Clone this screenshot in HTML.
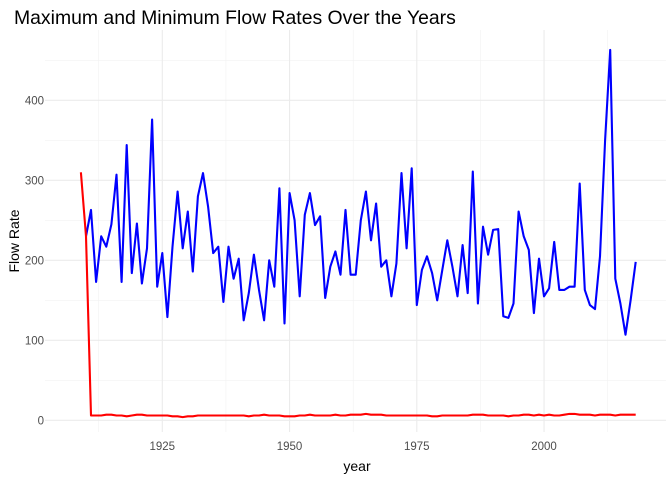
<!DOCTYPE html>
<html><head><meta charset="utf-8"><style>
body{margin:0;background:#fff;font-family:"Liberation Sans",sans-serif}
svg{display:block}
</style></head><body>
<svg id="chart" width="672" height="480">
<text x="14" y="24" font-size="19.4" fill="#000">Maximum and Minimum Flow Rates Over the Years</text>
<g id="grid"></g>
<g id="axes"></g>
<g id="series"></g>
<text x="357" y="471" font-size="14" text-anchor="middle" fill="#000">year</text>
<text transform="translate(19,241) rotate(-90)" font-size="14" text-anchor="middle" fill="#000">Flow Rate</text>
</svg>
<script>
const startYear = 1909;
const maxYears = [1910,1911,1912,1913,1914,1915,1916,1917,1918,1919,1920,1921,1922,1923,1924,1925,1926,1927,1928,1929,1930,1931,1932,1933,1934,1935,1936,1937,1938,1939,1940,1941,1942,1943,1944,1945,1946,1947,1948,1949,1950,1951,1952,1953,1954,1955,1956,1957,1958,1959,1960,1961,1962,1963,1964,1965,1966,1967,1968,1969,1970,1971,1972,1973,1974,1975,1976,1977,1978,1979,1980,1981,1982,1983,1984,1985,1986,1987,1988,1989,1990,1991,1992,1993,1994,1995,1996,1997,1998,1999,2000,2001,2002,2003,2004,2005,2006,2007,2008,2009,2010,2011,2012,2013,2014,2015,2016,2017,2018];
const maxFlow = [230,263,173,230,217,245,307,173,344,184,246,171,215,376,167,209,129,217,286,215,261,186,280,309,267,209,217,148,217,177,202,125,159,207,163,125,200,167,290,121,284,250,155,257,284,244,255,153,192,211,182,263,182,182,250,286,225,271,192,200,155,196,309,215,315,144,188,205,184,150,188,225,192,155,219,159,311,146,242,207,238,239,130,128,146,261,230,213,134,202,155,165,223,163,163,167,167,296,163,144,139,205,350,463,177,146,107,150,198];
const minYears = [];
for (let y = 1909; y <= 2018; y++) minYears.push(y);
const minFlow = [310,230,6,6,6,7,7,6,6,5,6,7,7,6,6,6,6,6,5,5,4,5,5,6,6,6,6,6,6,6,6,6,6,5,6,6,7,6,6,6,5,5,5,6,6,7,6,6,6,6,7,6,6,7,7,7,8,7,7,7,6,6,6,6,6,6,6,6,6,5,5,6,6,6,6,6,6,7,7,7,6,6,6,6,5,6,6,7,7,6,7,6,7,6,6,7,8,8,7,7,7,6,7,7,7,6,7,7,7,7];
const xTicks = [1925,1950,1975,2000];
const xMinor = [1912.5,1937.5,1962.5,1987.5,2012.5];
const yTicks = [0,100,200,300,400];
const yMinor = [50,150,250,350,450];

const X = yr => 162.3 + (yr - 1925) * 5.09;
const Y = v => 420.3 - v * 0.8;
const NS = 'http://www.w3.org/2000/svg';
const grid = document.getElementById('grid');
const axes = document.getElementById('axes');
const series = document.getElementById('series');
function mk(tag, attrs, parent){const e=document.createElementNS(NS,tag);for(const k in attrs)e.setAttribute(k,attrs[k]);parent.appendChild(e);return e;}
const L=45,R=666,T=30,B=432;
yMinor.forEach(v=>{const e=mk('line',{x1:L,x2:R,y1:Y(v),y2:Y(v),stroke:'#f2f2f2','stroke-width':0.6},grid);

});
xMinor.forEach(v=>{const e=mk('line',{x1:X(v),x2:X(v),y1:T,y2:B,stroke:'#f2f2f2','stroke-width':0.6},grid);

});
yTicks.forEach(v=>{const e=mk('line',{x1:L,x2:R,y1:Y(v),y2:Y(v),stroke:'#ebebeb','stroke-width':1.1},grid);


const t=mk('text',{x:44,y:Y(v)+4,'font-size':11.5,'text-anchor':'end',fill:'#4d4d4d'},axes);t.textContent=v;

});
xTicks.forEach(v=>{const e=mk('line',{x1:X(v),x2:X(v),y1:T,y2:B,stroke:'#ebebeb','stroke-width':1.1},grid);


const t=mk('text',{x:X(v),y:450,'font-size':11.5,'text-anchor':'middle',fill:'#4d4d4d'},axes);t.textContent=v;

});
function path(xs,vs){return xs.map((x,i)=>(i?'L':'M')+X(x).toFixed(1)+','+Y(vs[i]).toFixed(1)).join('');}
const bl=mk('path',{d:path(maxYears,maxFlow),fill:'none',stroke:'#0000ff','stroke-width':2.1,'stroke-linejoin':'round'},series);


const rl=mk('path',{d:path(minYears,minFlow),fill:'none',stroke:'#ff0000','stroke-width':2.1,'stroke-linejoin':'round'},series);


</script>
</body></html>
